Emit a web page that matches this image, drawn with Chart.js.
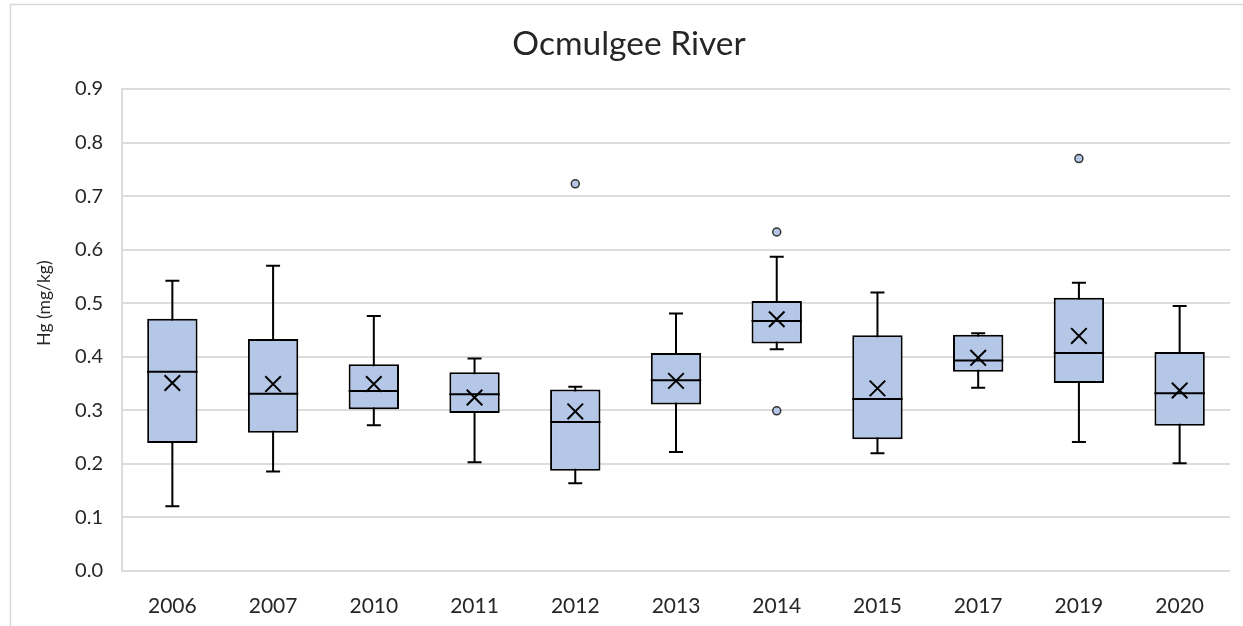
<!DOCTYPE html>
<html><head><meta charset="utf-8">
<script src="https://cdn.jsdelivr.net/npm/chart.js@4/dist/chart.umd.min.js"></script>
<style>html,body{margin:0;padding:0;background:#fff;overflow:hidden}#wrap{width:1243px;height:626px}</style>
</head><body><div id="wrap"><canvas id="c" width="1243" height="626"></canvas></div>
<script>
const years = ['2006','2007','2010','2011','2012','2013','2014','2015','2017','2019','2020'];
const whiskerLow  = [0.121, 0.186, 0.272, 0.203, 0.164, 0.222, 0.414, 0.220, 0.342, 0.241, 0.201];
const q1          = [0.239, 0.258, 0.302, 0.295, 0.187, 0.311, 0.425, 0.246, 0.372, 0.351, 0.271];
const median      = [0.372, 0.331, 0.336, 0.330, 0.278, 0.356, 0.467, 0.321, 0.393, 0.407, 0.332];
const q3          = [0.471, 0.433, 0.386, 0.371, 0.339, 0.407, 0.504, 0.440, 0.441, 0.510, 0.409];
const whiskerHigh = [0.542, 0.570, 0.476, 0.397, 0.344, 0.481, 0.587, 0.520, 0.444, 0.538, 0.495];
const mean        = [0.351, 0.349, 0.349, 0.324, 0.298, 0.355, 0.470, 0.341, 0.398, 0.439, 0.337];
const outlierYears  = ['2012', '2014', '2014', '2019'];
const outlierValues = [0.723, 0.633, 0.299, 0.770];
const yMin = 0, yMax = 0.9, yStep = 0.1;
const titleText = 'Ocmulgee River';
const yTitleText = 'Hg (mg/kg)';

const FONT = 'Lato, "Open Sans", sans-serif';
const TEXT = '#262626';
const FILL = '#b4c7e7';

const boxPlugin = {
  id: 'boxExtras',
  beforeDraw(chart) {
    const ctx = chart.ctx;
    ctx.save();
    ctx.strokeStyle = '#d9d9d9';
    ctx.lineWidth = 1.5;
    ctx.beginPath();
    ctx.moveTo(10.5, 700);
    ctx.lineTo(10.5, 4.5);
    ctx.lineTo(1243, 4.5);
    ctx.stroke();
    ctx.restore();
  },
  beforeDatasetsDraw(chart) {
    const ctx = chart.ctx, y = chart.scales.y;
    const meta = chart.getDatasetMeta(0);
    ctx.save();
    ctx.strokeStyle = '#000';
    ctx.lineWidth = 2;
    meta.data.forEach((bar, i) => {
      const x = bar.x, lo = y.getPixelForValue(whiskerLow[i]), hi = y.getPixelForValue(whiskerHigh[i]);
      const cap = 7;
      ctx.beginPath();
      ctx.moveTo(x, lo); ctx.lineTo(x, hi);
      ctx.moveTo(x - cap, lo); ctx.lineTo(x + cap, lo);
      ctx.moveTo(x - cap, hi); ctx.lineTo(x + cap, hi);
      ctx.stroke();
    });
    ctx.restore();
  },
  afterDatasetDraw(chart, args) {
    if (args.index !== 0) return;
    const ctx = chart.ctx, y = chart.scales.y;
    ctx.save();
    ctx.strokeStyle = '#000';
    ctx.lineWidth = 2;
    args.meta.data.forEach((bar, i) => {
      const py = y.getPixelForValue(median[i]);
      ctx.beginPath();
      ctx.moveTo(bar.x - bar.width / 2, py);
      ctx.lineTo(bar.x + bar.width / 2, py);
      ctx.stroke();
    });
    ctx.restore();
  },
  afterDraw(chart) {
    const ctx = chart.ctx;
    ctx.save();
    ctx.fillStyle = TEXT;
    ctx.font = '17.5px ' + FONT;
    ctx.textAlign = 'center';
    ctx.textBaseline = 'middle';
    ctx.translate(44, 303);
    ctx.rotate(-Math.PI / 2);
    ctx.fillText(yTitleText, 0, 0);
    ctx.restore();
  }
};

new Chart(document.getElementById('c'), {
  type: 'bar',
  data: {
    labels: years,
    datasets: [
      {
        label: 'box',
        data: years.map((_, i) => [q1[i], q3[i]]),
        backgroundColor: FILL,
        borderColor: '#000',
        borderWidth: 2,
        borderSkipped: false,
        barPercentage: 0.5,
        categoryPercentage: 1.0,
        order: 3
      },
      {
        type: 'line',
        label: 'mean',
        data: mean,
        showLine: false,
        pointStyle: 'crossRot',
        pointRadius: 11,
        pointBorderWidth: 2,
        borderColor: '#000',
        backgroundColor: '#000',
        order: 1
      },
      {
        type: 'line',
        label: 'outliers',
        data: outlierYears.map((yr, i) => ({x: yr, y: outlierValues[i]})),
        showLine: false,
        pointStyle: 'circle',
        pointRadius: 4,
        pointBorderWidth: 1.5,
        borderColor: '#333',
        backgroundColor: FILL,
        order: 2
      }
    ]
  },
  options: {
    responsive: false,
    animation: false,
    layout: {padding: {left: 28, right: 13, top: 0, bottom: 0}},
    plugins: {
      legend: {display: false},
      tooltip: {enabled: false},
      title: {
        display: true,
        text: titleText,
        color: TEXT,
        font: {family: FONT, size: 33.5, weight: 'normal'},
        padding: {top: 24, bottom: 24.8}
      }
    },
    scales: {
      x: {
        grid: {display: false},
        border: {display: false},
        ticks: {color: TEXT, font: {family: FONT, size: 21}, padding: 15, maxRotation: 0},
        afterFit(s) { s.height = 55; }
      },
      y: {
        min: yMin, max: yMax,
        grid: {color: '#dcdcdc', lineWidth: 2, drawTicks: false},
        border: {display: true, color: '#dcdcdc', width: 2},
        ticks: {stepSize: yStep, color: TEXT, font: {family: FONT, size: 20}, padding: 19,
                callback: v => v.toFixed(1)},
        afterFit(s) { s.width = 94; }
      }
    }
  },
  plugins: [boxPlugin]
});
</script>
</body></html>
